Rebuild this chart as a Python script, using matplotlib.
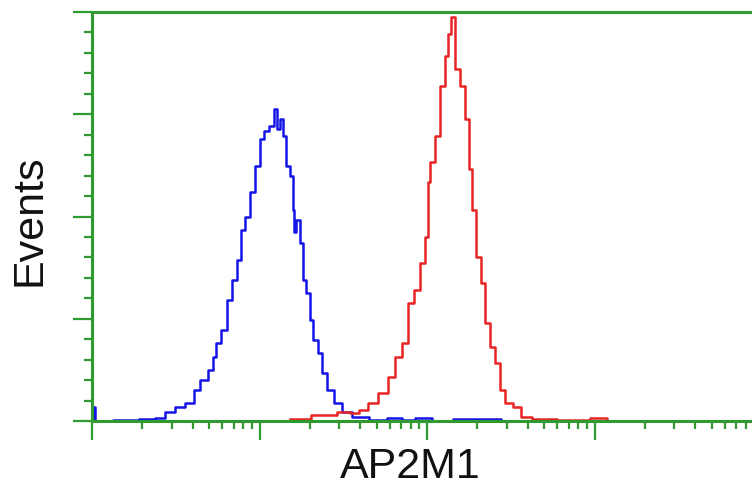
import numpy as np
import matplotlib
matplotlib.use("agg")
import matplotlib.pyplot as plt
from matplotlib.ticker import LogLocator, MultipleLocator, NullFormatter

plt.rcParams["font.family"] = ["Liberation Sans", "DejaVu Sans"]

# log10 of fluorescence channel, and event counts
blue_log = [0.00, 0.006, 0.03, 0.20, 0.346, 0.406, 0.466, 0.525, 0.585, 0.627, 0.663,
            0.716, 0.734, 0.752, 0.782, 0.824, 0.842, 0.884, 0.896, 0.925, 0.955,
            0.985, 1.015, 1.033, 1.075, 1.093, 1.110, 1.134, 1.152, 1.170, 1.194,
            1.200, 1.206, 1.224, 1.254, 1.260, 1.290, 1.313, 1.331, 1.361, 1.379,
            1.421, 1.463, 1.522, 1.582, 1.719, 1.80, 1.90, 1.95, 2.10, 2.20, 2.60, 2.70]
blue_cnt = [0, 7, 0, 0.5, 1, 1.5, 4.4, 6.9, 8.8, 15.2, 20.1,
            25.0, 31.4, 38.2, 44.6, 59.3, 69.1, 78.9, 93.6, 100.0, 111.8,
            124.5, 137.7, 141.6, 144.1, 152.4, 142.6, 147.5, 139.2, 124.5, 119.6,
            103.4, 92.2, 98.5, 87.2, 69.1, 62.7, 49.5, 39.7, 33.3, 23.5,
            15.2, 8.8, 4.4, 2.0, 0.5, 1.5, 0.5, 1.5, 0, 1.0, 0, 0.5]

red_log = [1.182, 1.403, 1.510, 1.570, 1.618, 1.678, 1.737, 1.791, 1.827, 1.869,
           1.899, 1.940, 1.970, 2.000, 2.006, 2.030, 2.060, 2.090, 2.119, 2.137,
           2.155, 2.179, 2.209, 2.239, 2.257, 2.275, 2.304, 2.334, 2.358, 2.388,
           2.424, 2.448, 2.478, 2.543, 2.573, 2.675, 2.854, 3.063, 3.09]
red_cnt = [1, 3, 4.4, 3.9, 5.4, 8.8, 13.7, 21.6, 31.4, 38.2,
           57.8, 64.2, 77.5, 90.2, 116.7, 126.5, 139.2, 163.7, 178.4, 189.2,
           197.5, 172.0, 163.7, 147.5, 123.0, 103.4, 80.4, 67.6, 48.0, 36.3,
           28.4, 15.2, 8.8, 6.9, 2.0, 1, 0.5, 1.5, 0]

green = "#2f9a2f"

fig = plt.figure(figsize=(7.52, 4.98), dpi=100)
ax = fig.add_axes([92 / 752, 1 - 421 / 498, 1 - 92 / 752, (421 - 12) / 498])

ax.plot(10 ** np.array(blue_log), blue_cnt, color="#1414e6", lw=1.8, drawstyle="steps-mid")
ax.plot(10 ** np.array(red_log), red_cnt, color="#e82424", lw=1.8, drawstyle="steps-mid")

ax.set_xscale("log")
ax.set_xlim(1, 10 ** 3.94)
ax.set_ylim(0, 200)

ax.xaxis.set_major_locator(LogLocator(base=10, numticks=10))
ax.xaxis.set_minor_locator(LogLocator(base=10, subs=np.arange(2, 10), numticks=10))
ax.xaxis.set_major_formatter(NullFormatter())
ax.xaxis.set_minor_formatter(NullFormatter())
ax.yaxis.set_major_locator(MultipleLocator(50))
ax.yaxis.set_minor_locator(MultipleLocator(10))
ax.yaxis.set_major_formatter(NullFormatter())

for s in ["left", "top", "bottom"]:
    ax.spines[s].set_color(green)
    ax.spines[s].set_linewidth(2.2)
ax.spines["right"].set_visible(False)

ax.tick_params(which="major", direction="out", length=14, width=1.6, color=green)
ax.tick_params(which="minor", direction="out", length=6, width=1.6, color=green)

ax.set_xlabel("AP2M1", fontsize=31, color="#111111")
ax.set_ylabel("Events", fontsize=31, color="#111111")
ax.xaxis.set_label_coords((410 - 92) / 660, -0.063)
ax.yaxis.set_label_coords(-0.065, 0.49)

fig.savefig("out.png", dpi=100)
